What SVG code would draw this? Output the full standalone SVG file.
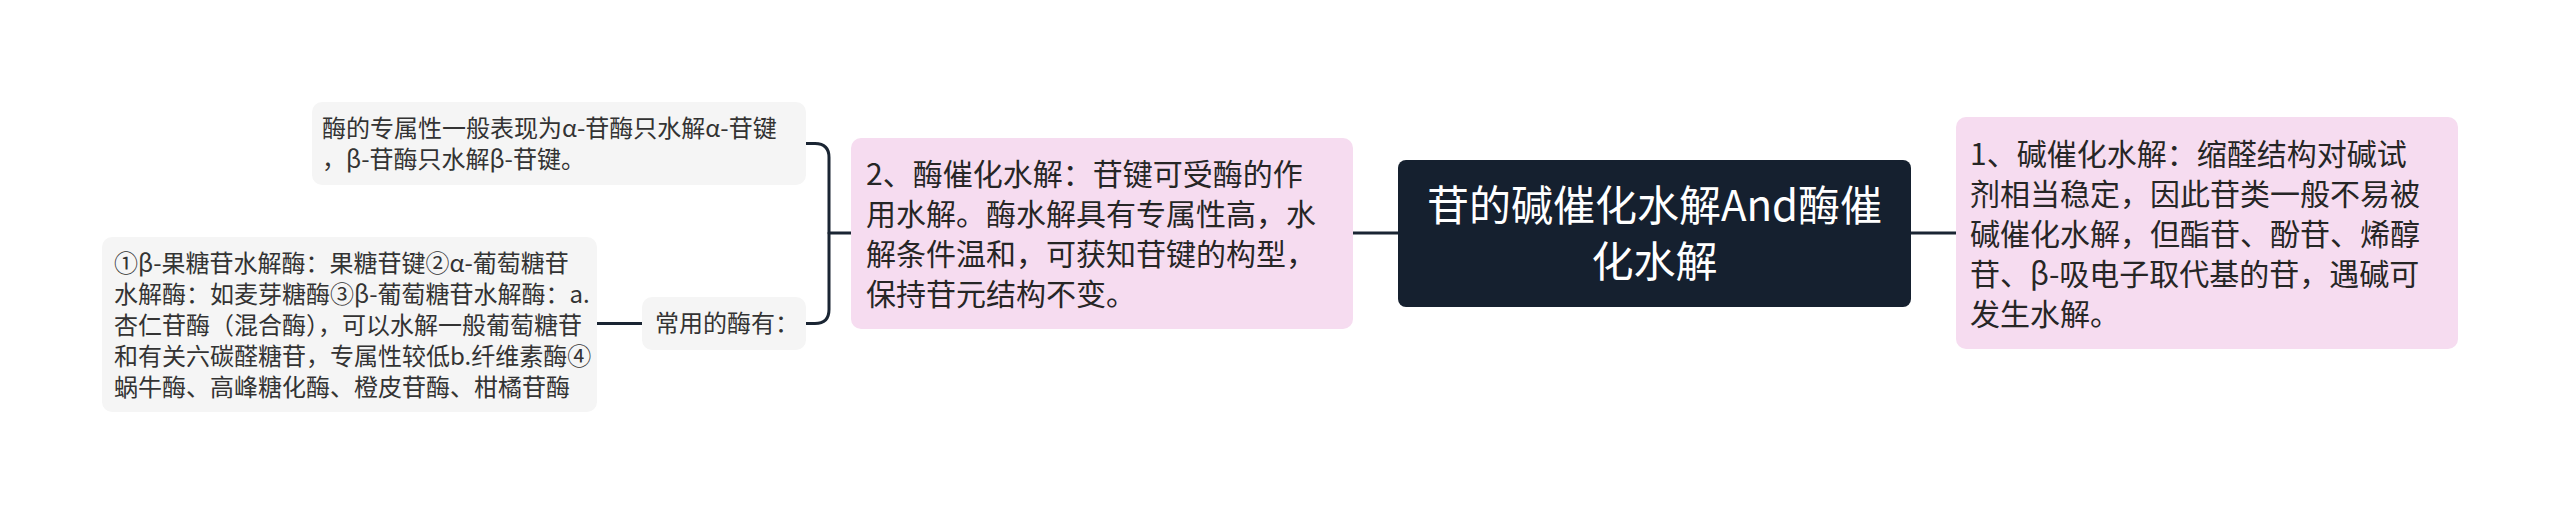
<svg xmlns="http://www.w3.org/2000/svg" width="2560" height="513" viewBox="0 0 2560 513">
<style>
.t{font-family:"Noto Sans CJK SC","Noto Sans",sans-serif;}
.gray{fill:#f5f5f5;}
.pink{fill:#f6dcf0;}
.root{fill:#15202f;}
.sm{font-size:24px;fill:#333333;}
.md{font-size:30px;fill:#262626;}
.lg{font-size:42px;fill:#ffffff;}
.edge{fill:none;stroke:#1a2533;stroke-width:3;stroke-linecap:round;}
</style>
<rect width="2560" height="513" fill="#ffffff"/>
<g id="connectors">
<path class="edge" d="M1353 233 H1398"/>
<path class="edge" d="M1911 233 H1956"/>
<path class="edge" d="M851 233 H829"/>
<path class="edge" d="M806 143.5 H815 Q829 143.5 829 157.5 V309.5 Q829 323.5 815 323.5 H806"/>
<path class="edge" d="M597 323.5 H642"/>
</g>
<g id="root">
<rect class="root" x="1398" y="160" width="513" height="147" rx="8"/>
<text class="t lg" text-anchor="middle"><tspan x="1654.5" y="221">苷的碱催化水解And酶催</tspan><tspan x="1654.5" y="277">化水解</tspan></text>
</g>
<g id="node-base">
<rect class="pink" x="1956" y="117" width="502" height="232" rx="10"/>
<text class="t md"><tspan x="1970" y="165">1、碱催化水解：缩醛结构对碱试</tspan><tspan x="1970" y="205">剂相当稳定，因此苷类一般不易被</tspan><tspan x="1970" y="245">碱催化水解，但酯苷、酚苷、烯醇</tspan><tspan x="1970" y="285">苷、β-吸电子取代基的苷，遇碱可</tspan><tspan x="1970" y="325">发生水解。</tspan></text>
</g>
<g id="node-enzyme">
<rect class="pink" x="851" y="138" width="502" height="191" rx="10"/>
<text class="t md"><tspan x="866" y="185">2、酶催化水解：苷键可受酶的作</tspan><tspan x="866" y="225">用水解。酶水解具有专属性高，水</tspan><tspan x="866" y="265">解条件温和，可获知苷键的构型，</tspan><tspan x="866" y="305">保持苷元结构不变。</tspan></text>
</g>
<g id="node-specificity">
<rect class="gray" x="312" y="102" width="494" height="83" rx="10"/>
<text class="t sm"><tspan x="322" y="136.5">酶的专属性一般表现为α-苷酶只水解α-苷键</tspan><tspan x="322" y="168">，β-苷酶只水解β-苷键。</tspan></text>
</g>
<g id="node-common">
<rect class="gray" x="642" y="297" width="164" height="53" rx="10"/>
<text class="t sm" x="655" y="332">常用的酶有：</text>
</g>
<g id="node-list">
<rect class="gray" x="102" y="237" width="495" height="175" rx="10"/>
<text class="t sm"><tspan x="114" y="272">①β-果糖苷水解酶：果糖苷键②α-葡萄糖苷</tspan><tspan x="114" y="303">水解酶：如麦芽糖酶③β-葡萄糖苷水解酶：a.</tspan><tspan x="114" y="334">杏仁苷酶（混合酶），可以水解一般葡萄糖苷</tspan><tspan x="114" y="365">和有关六碳醛糖苷，专属性较低b.纤维素酶④</tspan><tspan x="114" y="396">蜗牛酶、高峰糖化酶、橙皮苷酶、柑橘苷酶</tspan></text>
</g>
</svg>
